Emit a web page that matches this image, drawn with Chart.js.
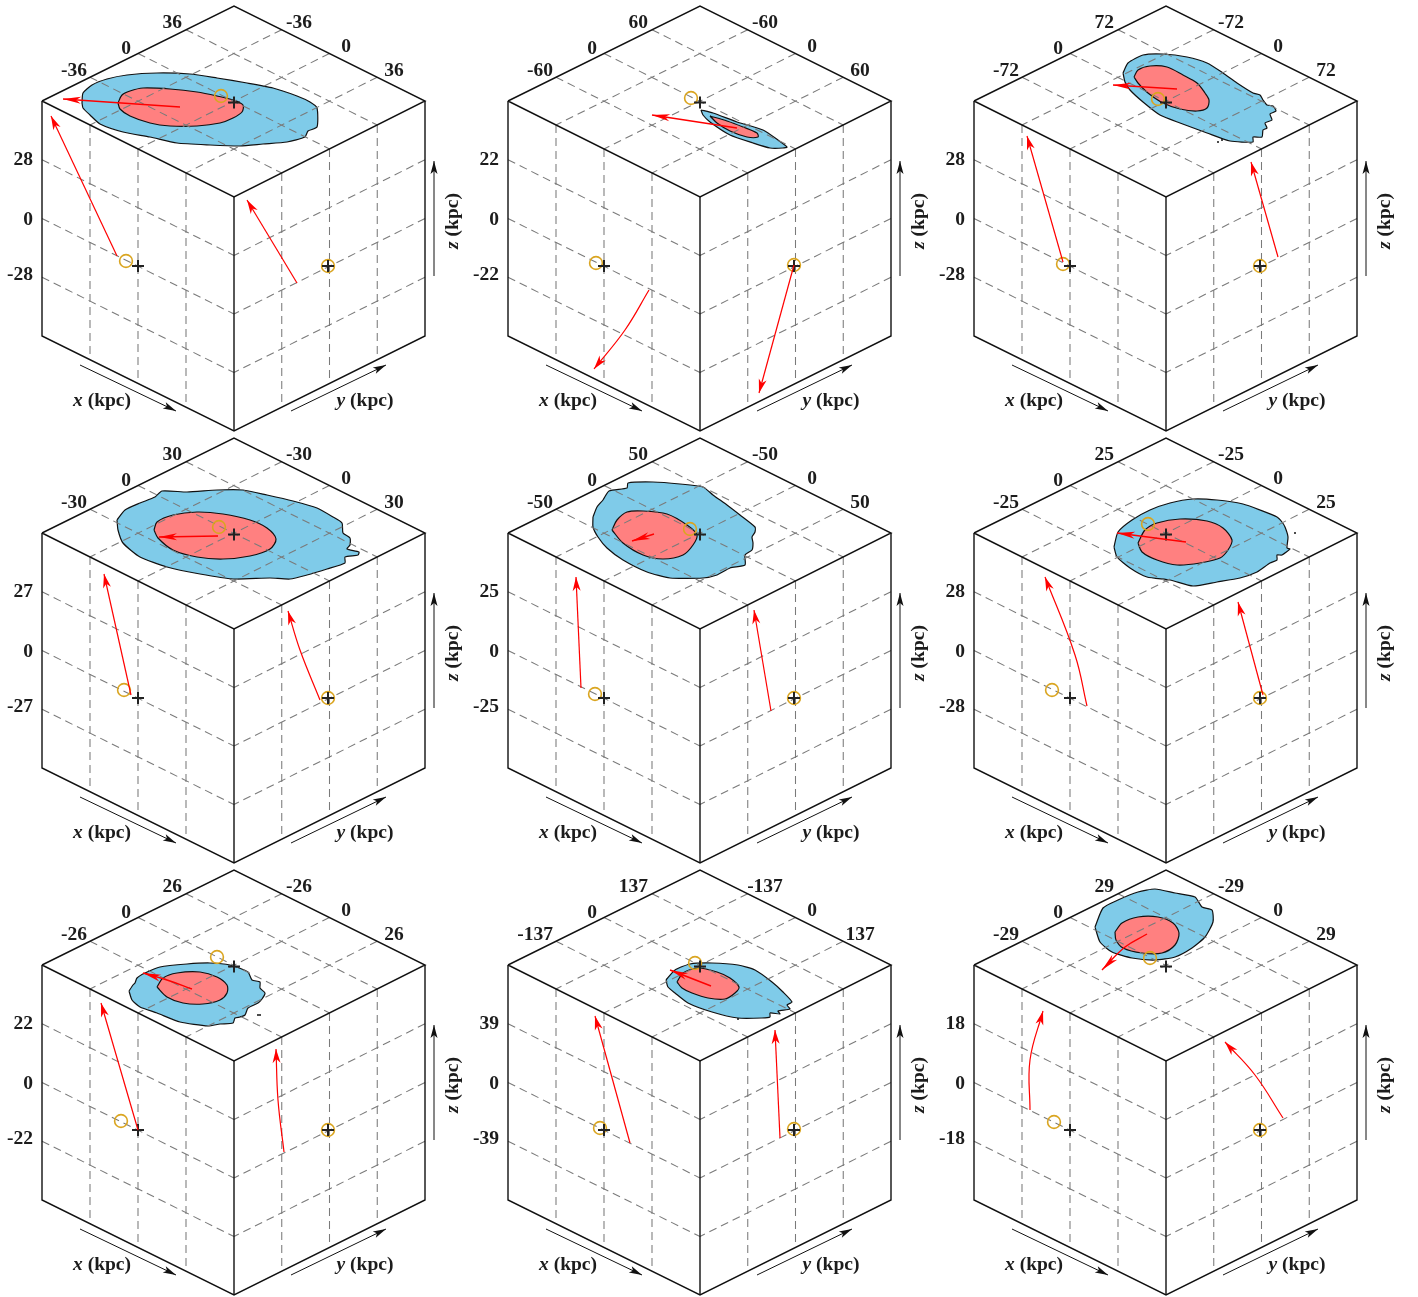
<!DOCTYPE html>
<html><head><meta charset="utf-8">
<style>html,body{margin:0;padding:0;background:#fff}#wrap{position:relative;width:1418px;height:1297px;overflow:hidden;background:#fff}canvas{position:absolute}</style>
<script src="https://cdn.jsdelivr.net/npm/chart.js@4/dist/chart.umd.min.js"></script>
</head><body><div id="wrap"></div>
<script>
// Tick values (kpc), one per panel
const horizTicks=[36,60,72,30,50,25,26,137,29];
const vertTicks=[28,22,28,27,25,28,22,39,18];
// Outer (blue) contours in the panel's projected plane
const blueContours=[
[[82,103],[83,93],[92,85],[107,79],[127,75],[157,73],[190,74],[217,78],[247,83],[273,88],[297,96],[310,102],[317,108],[317,127],[308,131],[305,137],[287,142],[263,144],[240,146],[210,145],[177,143],[150,137],[123,132],[100,124],[90,115],[83,108]],
[[235,110],[247,113],[271,122],[297,130],[312,140],[321,147],[317,148],[304,148],[287,143],[264,135],[244,122],[237,115]],
[[191,73],[196,63],[211,55],[231,54],[255,57],[275,63],[291,73],[305,83],[321,93],[328,95],[331,100],[335,105],[341,106],[344,111],[338,114],[340,120],[333,123],[335,128],[331,130],[330,137],[321,137],[321,142],[298,141],[275,133],[248,123],[228,115],[211,102],[198,90],[193,82]],
[[117,88],[125,78],[140,71],[155,65],[162,59],[187,60],[217,58],[243,58],[267,63],[293,69],[317,76],[333,85],[342,91],[343,101],[350,106],[350,113],[347,117],[359,120],[358,123],[345,125],[345,131],[327,137],[307,143],[290,147],[270,146],[233,147],[200,142],[167,135],[140,125],[123,111],[118,98]],
[[127,85],[131,75],[137,68],[143,59],[161,56],[162,51],[187,50],[214,52],[237,55],[247,63],[261,73],[274,83],[289,95],[289,100],[286,105],[287,111],[286,118],[279,123],[279,133],[264,136],[251,143],[237,146],[204,146],[181,140],[157,128],[141,116],[132,105],[127,95]],
[[182,115],[186,100],[200,88],[218,78],[238,71],[261,67],[285,68],[311,72],[328,78],[345,85],[350,90],[353,95],[356,105],[355,116],[358,117],[350,123],[345,123],[345,128],[338,131],[325,140],[308,146],[285,150],[261,154],[238,148],[215,145],[198,136],[185,125]],
[[129,127],[133,121],[135,119],[137,114],[145,109],[160,103],[187,100],[210,99],[230,101],[248,108],[252,116],[260,118],[260,124],[265,129],[262,135],[258,139],[248,144],[245,151],[240,153],[235,154],[233,159],[220,160],[208,162],[180,158],[157,149],[140,143],[132,136]],
[[200,116],[209,106],[224,100],[246,99],[272,101],[289,106],[306,118],[317,128],[326,138],[321,141],[324,145],[312,147],[314,150],[304,149],[304,153],[296,154],[272,154],[246,148],[222,139],[209,129],[202,123]],
[[163,63],[171,44],[186,36],[206,28],[223,25],[243,29],[263,33],[270,43],[280,46],[281,58],[273,73],[260,84],[243,93],[223,96],[200,94],[180,88],[168,78]]
];
// Inner (red) contours
const redContours=[
[[118,103],[122,95],[130,91],[143,88],[170,89],[197,92],[217,96],[233,100],[243,105],[242,112],[233,118],[220,123],[197,126],[170,126],[150,123],[130,116],[120,109]],
[[244,116],[261,121],[277,127],[291,133],[292,137],[281,137],[264,131],[251,123]],
[[202,77],[206,70],[218,66],[235,67],[251,75],[265,83],[273,93],[277,100],[275,108],[265,111],[248,109],[231,103],[216,93],[206,83]],
[[154,98],[157,90],[173,83],[197,80],[223,82],[250,88],[267,96],[276,107],[270,117],[250,124],[223,127],[197,125],[173,118],[158,106]],
[[146,98],[151,88],[161,80],[177,79],[201,82],[221,93],[231,103],[227,113],[217,123],[197,127],[177,123],[157,111]],
[[206,111],[213,98],[225,91],[248,87],[275,89],[291,96],[300,108],[296,118],[288,126],[268,131],[245,133],[225,128],[210,120]],
[[157,123],[163,114],[177,109],[200,108],[217,113],[227,121],[227,129],[220,136],[203,140],[183,139],[167,133]],
[[211,118],[217,109],[232,104],[251,108],[264,114],[273,123],[269,129],[259,135],[242,134],[226,129],[216,124]],
[[183,68],[190,59],[206,53],[226,53],[241,59],[247,69],[243,81],[230,89],[210,89],[191,84],[184,76]]
];
// Red trajectories: tail ... tip
const topPaths=[
[[180,107],[63,99]],[[271,128],[186,115]],[[245,89],[181,85]],
[[218,104],[159,105]],[[188,102],[166,109]],[[254,110],[185,101]],
[[192,125],[167,116],[143,109]],[[245,122],[204,106]],[[215,70],[193,83],[170,106]]
];
const leftPaths=[
[[117,256],[51,116]],[[183,290],[159,330],[128,369]],[[131,262],[95,136]],
[[131,263],[104,142]],[[115,256],[110,145]],[[155,274],[143,223],[113,145]],
[[138,266],[101,139]],[[164,279],[129,152]],[[98,246],[98,196],[111,147]]
];
const rightPaths=[
[[297,283],[247,200]],[[328,265],[293,393]],[[346,257],[319,162]],
[[320,268],[300,218],[288,179]],[[305,279],[288,178]],[[331,263],[306,170]],
[[284,288],[278,236],[276,185]],[[314,274],[309,166]],[[351,254],[323,211],[293,178]]
];
// Circle markers on the three faces
const circleTop=[[221,96],[225,98],[226,99],[219,95],[224,97],[216,92],[217,93],[229,99],[218,94]];
const circleLeft=[[126,261],[130,263],[131,264],[124,258],[129,262],[120,258],[121,257],[134,264],[122,258]];
const circleRight=[[328,266],[328,265],[328,266],[328,266],[328,266],[328,266],[328,266],[328,265],[328,266]];
// Plus markers (origin) on the three faces
const plusTop=[[234,102.5],[234,102.5],[234,102.5],[234,102.5],[234,102.5],[234,102.5],[234,102.5],[234,102.5],[234,102.5]];
const plusLeft=[[138,266],[138,266],[138,266],[138,266],[138,266],[138,266],[138,266],[138,266],[138,266]];
const plusRight=[[328,266],[328,266],[328,266],[328,266],[328,266],[328,266],[328,266],[328,266],[328,266]];
// Stray contour specks
const specks=[[],[],[[286,142],[290,140]],[],[],[[363,101]],[[258,151],[260,151]],[[272,155]],[]];

const FONT='"Liberation Serif","Times New Roman",serif';
const G={L:[42,101],T:[234,6],R:[425,101],F:[234,197],BL:[42,336],B:[234,431],BR:[425,336]};
const lerp=(a,b,t)=>[a[0]+(b[0]-a[0])*t,a[1]+(b[1]-a[1])*t];
const xy=p=>({x:p[0],y:p[1]});
const line=(pts,o)=>Object.assign({data:pts.map(xy),showLine:true,pointRadius:0,borderColor:'#111',borderWidth:1.4,fill:false,tension:0},o||{});

const shapesPlugin={id:'shapes',
 beforeDatasetDraw(chart,args){
  const ds=chart.data.datasets[args.index];
  if(!ds.polyFill)return;
  const meta=chart.getDatasetMeta(args.index),c=chart.ctx;
  meta.dataset.updateControlPoints(chart.chartArea,'x');
  c.save();c.beginPath();meta.dataset.path(c);c.closePath();c.fillStyle=ds.polyFill;c.fill();c.restore();
 },
 afterDatasetDraw(chart,args){
  const ds=chart.data.datasets[args.index];
  if(!ds.head)return;
  const pts=chart.getDatasetMeta(args.index).data,n=pts.length,c=chart.ctx;
  const tip=pts[n-1],pr=pts[n-2];
  const a=Math.atan2(tip.y-pr.y,tip.x-pr.x),[len,hw,notch]=ds.head;
  const P=(b,s)=>[tip.x-Math.cos(a)*b-Math.sin(a)*s,tip.y-Math.sin(a)*b+Math.cos(a)*s];
  c.save();c.fillStyle=ds.borderColor;c.beginPath();
  c.moveTo(tip.x,tip.y);c.lineTo(...P(len,hw));c.lineTo(...P(notch,0));c.lineTo(...P(len,-hw));c.closePath();c.fill();c.restore();
 },
 afterDraw(chart){
  const o=chart.options.plugins.shapes,c=chart.ctx,X=chart.scales.x,Y=chart.scales.y;
  const put=(t,x,y,al)=>{c.textAlign=al;c.fillText(t,X.getPixelForValue(x),Y.getPixelForValue(y));};
  c.save();c.fillStyle='#1c1c1c';c.textBaseline='middle';c.font='bold 19.5px '+FONT;
  const h=o.h,v=o.v;
  [[String(-h),87,71],['0',131,49],[String(h),182,23]].forEach(a=>put(a[0],a[1],a[2],'right'));
  [[String(-h),299,23],['0',346,47],[String(h),394,71]].forEach(a=>put(a[0],a[1],a[2],'center'));
  [[String(v),33,160],['0',33,220],[String(-v),33,275]].forEach(a=>put(a[0],a[1],a[2],'right'));
  const lab=(s,x,y)=>{c.font='italic bold 19.5px '+FONT;const w1=c.measureText(s).width;c.font='bold 19.5px '+FONT;const t=' (kpc)';const w2=c.measureText(t).width;
   const x0=X.getPixelForValue(x)-(w1+w2)/2,py=Y.getPixelForValue(y);c.textAlign='left';c.font='italic bold 19.5px '+FONT;c.fillText(s,x0,py);c.font='bold 19.5px '+FONT;c.fillText(t,x0+w1,py);};
  lab('x',102,401);lab('y',365,401);
  c.translate(X.getPixelForValue(453),Y.getPixelForValue(221));c.rotate(-Math.PI/2);
  c.font='italic bold 19.5px '+FONT;const w1=c.measureText('z').width;c.font='bold 19.5px '+FONT;const w2=c.measureText(' (kpc)').width;
  c.textAlign='left';c.font='italic bold 19.5px '+FONT;c.fillText('z',-(w1+w2)/2,0);c.font='bold 19.5px '+FONT;c.fillText(' (kpc)',-(w1+w2)/2+w1,0);
  c.restore();
 }
};

function buildPanel(i){
 const ds=[];
 ds.push(line([...blueContours[i],blueContours[i][0]],{polyFill:'#7FCBE9',borderWidth:1.2,tension:0.2}));
 ds.push(line([...redContours[i],redContours[i][0]],{polyFill:'#FF8080',borderWidth:1.2,tension:0.3}));
 const grid=(a,b)=>ds.push(line([a,b],{borderColor:'#7a7a7a',borderWidth:1.05,borderDash:[8,5]}));
 [.25,.5,.75].forEach(t=>{
  grid(lerp(G.L,G.T,t),lerp(G.F,G.R,t));
  grid(lerp(G.T,G.R,t),lerp(G.L,G.F,t));
  grid(lerp(G.L,G.F,t),lerp(G.BL,G.B,t));
  grid(lerp(G.F,G.R,t),lerp(G.B,G.BR,t));
  grid(lerp(G.L,G.BL,t),lerp(G.F,G.B,t));
  grid(lerp(G.R,G.BR,t),lerp(G.F,G.B,t));
 });
 [[G.L,G.T,G.R,G.F,G.L],[G.L,G.BL,G.B,G.BR,G.R],[G.F,G.B]].forEach(p=>ds.push(line(p,{borderColor:'#111',borderWidth:1.4})));
 [[[80,365],[176,411]],[[291,411],[386,365]],[[434,276],[434,161]]].forEach(p=>ds.push(line(p,{borderColor:'#111',borderWidth:1,head:[13,3.5,10]})));
 ds.push({data:specks[i].map(xy),pointRadius:1,pointBackgroundColor:'#111',pointBorderWidth:0,showLine:false});
 const pt=(style,r,color,w,arr)=>ds.push({data:arr.map(xy),showLine:false,pointStyle:style,pointRadius:r,pointBorderColor:color,pointBorderWidth:w,pointBackgroundColor:'rgba(0,0,0,0)'});
 pt('circle',6.4,'#DAA520',1.6,[circleTop[i],circleLeft[i],circleRight[i]]);
 pt('cross',6,'#222',2,[plusTop[i],plusLeft[i],plusRight[i]]);
 const arrow=(p,head,w)=>ds.push(line(p,{borderColor:'#FF0000',borderWidth:w,head,tension:p.length>2?0.4:0}));
 arrow(topPaths[i],[18,3.5,13],1.4);
 arrow(leftPaths[i],[14,4,10],1.2);
 arrow(rightPaths[i],[14,4,10],1.2);
 return ds.reverse();
}

const wrap=document.getElementById('wrap');
for(let i=0;i<9;i++){
 const cv=document.createElement('canvas');
 cv.width=466;cv.height=433;cv.style.width='466px';cv.style.height='433px';
 cv.style.left=(i%3)*466+'px';cv.style.top=Math.floor(i/3)*432+'px';
 wrap.appendChild(cv);
 new Chart(cv,{type:'scatter',data:{datasets:buildPanel(i)},plugins:[shapesPlugin],options:{
  responsive:false,animation:false,devicePixelRatio:1,layout:{padding:0,autoPadding:false},
  plugins:{legend:{display:false},tooltip:{enabled:false},shapes:{h:horizTicks[i],v:vertTicks[i]}},
  scales:{x:{type:'linear',min:0,max:466,display:false},y:{type:'linear',min:0,max:433,reverse:true,display:false}}
 }});
}
</script></body></html>
